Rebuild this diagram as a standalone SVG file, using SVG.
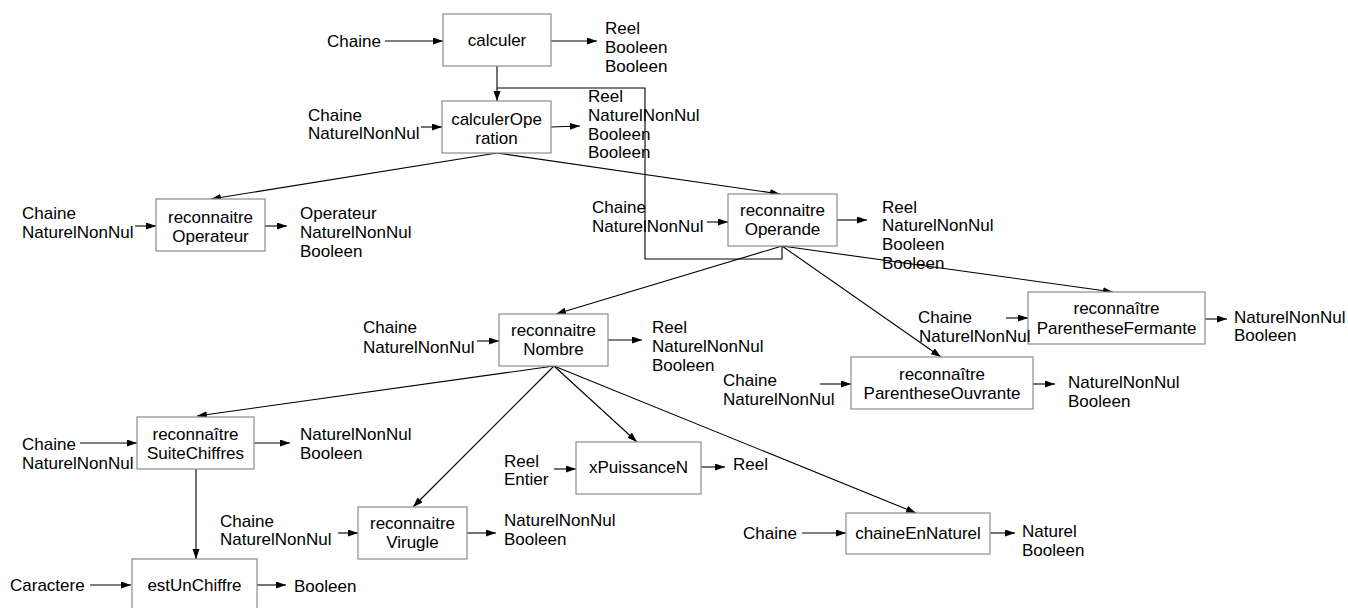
<svg xmlns="http://www.w3.org/2000/svg" width="1348" height="608" viewBox="0 0 1348 608">
<style>
.box{fill:#fff;stroke:#8c8c8c;stroke-width:1.2}
.t{font-family:"Liberation Sans",Arial,sans-serif;font-size:17px;fill:#000}
.c{text-anchor:middle}
.e{fill:none;stroke:#000;stroke-width:1.1}
.a{marker-end:url(#ah)}
</style>
<defs>
<marker id="ah" markerUnits="userSpaceOnUse" markerWidth="11" markerHeight="8" refX="10" refY="3.5" orient="auto">
<path d="M0,0 L10,3.5 L0,7 z" fill="#000"/>
</marker>
</defs>
<rect width="1348" height="608" fill="#fff"/>
<g id="connectors">
<line class="e a" x1="385" y1="41" x2="443" y2="41"/>
<line class="e a" x1="551" y1="41" x2="597" y2="41"/>
<line class="e a" x1="497" y1="66" x2="497" y2="101"/>
<polyline class="e" points="782,246 782,259 645,259 645,88 497,88"/>
<line class="e a" x1="421" y1="127" x2="442" y2="127"/>
<line class="e a" x1="551" y1="127" x2="580" y2="126"/>
<line class="e a" x1="497" y1="153" x2="211" y2="199"/>
<line class="e a" x1="497" y1="153" x2="780" y2="194"/>
<line class="e a" x1="135" y1="226" x2="156" y2="226"/>
<line class="e a" x1="265" y1="226" x2="287" y2="226"/>
<line class="e a" x1="707" y1="222" x2="728" y2="222"/>
<line class="e a" x1="837" y1="220" x2="867" y2="220"/>
<line class="e a" x1="782" y1="246" x2="556" y2="314"/>
<line class="e a" x1="782" y1="246" x2="941" y2="357"/>
<line class="e a" x1="782" y1="246" x2="1113" y2="292"/>
<line class="e a" x1="477" y1="341" x2="499" y2="341"/>
<line class="e a" x1="608" y1="340" x2="642" y2="340"/>
<line class="e a" x1="1006" y1="318" x2="1028" y2="318"/>
<line class="e a" x1="1205" y1="319" x2="1227" y2="319"/>
<line class="e a" x1="820" y1="384" x2="851" y2="384"/>
<line class="e a" x1="1033" y1="384" x2="1055" y2="384"/>
<line class="e a" x1="554" y1="366" x2="197" y2="416"/>
<line class="e a" x1="554" y1="366" x2="413" y2="507"/>
<line class="e a" x1="554" y1="366" x2="637" y2="442"/>
<line class="e a" x1="554" y1="366" x2="916" y2="513"/>
<line class="e a" x1="80" y1="443" x2="137" y2="443"/>
<line class="e a" x1="254" y1="443" x2="290" y2="443"/>
<line class="e a" x1="196" y1="469" x2="196" y2="559"/>
<line class="e a" x1="90" y1="585" x2="131" y2="585"/>
<line class="e a" x1="257" y1="585" x2="286" y2="585"/>
<line class="e a" x1="338" y1="533" x2="358" y2="533"/>
<line class="e a" x1="467" y1="533" x2="496" y2="533"/>
<line class="e a" x1="554" y1="469" x2="576" y2="469"/>
<line class="e a" x1="701" y1="467" x2="725" y2="467"/>
<line class="e a" x1="802" y1="533" x2="846" y2="533"/>
<line class="e a" x1="990" y1="533" x2="1015" y2="533"/>
</g>
<g id="calculer">
<rect class="box" x="443" y="14" width="108" height="52"/>
<text class="t c" x="497" y="46">calculer</text>
<text class="t" x="327" y="47">Chaine</text>
<text class="t" x="605" y="34">Reel</text>
<text class="t" x="605" y="53">Booleen</text>
<text class="t" x="605" y="72">Booleen</text>
</g>
<g id="calculerOperation">
<rect class="box" x="442" y="101" width="109" height="52"/>
<text class="t c" x="496.5" y="125">calculerOpe</text>
<text class="t c" x="496.5" y="143.5">ration</text>
<text class="t" x="308" y="121">Chaine</text>
<text class="t" x="308" y="139">NaturelNonNul</text>
<text class="t" x="588" y="102">Reel</text>
<text class="t" x="588" y="121">NaturelNonNul</text>
<text class="t" x="588" y="139.5">Booleen</text>
<text class="t" x="588" y="158">Booleen</text>
</g>
<g id="reconnaitreOperateur">
<rect class="box" x="156" y="199" width="109" height="52"/>
<text class="t c" x="210.5" y="223">reconnaitre</text>
<text class="t c" x="210.5" y="241.7">Operateur</text>
<text class="t" x="22" y="219">Chaine</text>
<text class="t" x="22" y="237.5">NaturelNonNul</text>
<text class="t" x="300" y="219">Operateur</text>
<text class="t" x="300" y="237.7">NaturelNonNul</text>
<text class="t" x="300" y="256.5">Booleen</text>
</g>
<g id="reconnaitreOperande">
<rect class="box" x="728" y="194" width="109" height="52"/>
<text class="t c" x="782.5" y="216">reconnaitre</text>
<text class="t c" x="782.5" y="235">Operande</text>
<text class="t" x="592" y="213">Chaine</text>
<text class="t" x="592" y="231.7">NaturelNonNul</text>
<text class="t" x="882" y="212.7">Reel</text>
<text class="t" x="882" y="231.4">NaturelNonNul</text>
<text class="t" x="882" y="250.1">Booleen</text>
<text class="t" x="882" y="268.8">Booleen</text>
</g>
<g id="reconnaitreNombre">
<rect class="box" x="499" y="314" width="109" height="52"/>
<text class="t c" x="553.5" y="335.7">reconnaitre</text>
<text class="t c" x="553.5" y="355">Nombre</text>
<text class="t" x="363" y="333">Chaine</text>
<text class="t" x="363" y="352.5">NaturelNonNul</text>
<text class="t" x="652" y="333">Reel</text>
<text class="t" x="652" y="352">NaturelNonNul</text>
<text class="t" x="652" y="371">Booleen</text>
</g>
<g id="reconnaitreParentheseFermante">
<rect class="box" x="1028" y="292" width="177" height="52"/>
<text class="t c" x="1116.5" y="314">reconnaître</text>
<text class="t c" x="1116.5" y="334">ParentheseFermante</text>
<text class="t" x="918" y="323">Chaine</text>
<text class="t" x="919" y="341.7">NaturelNonNul</text>
<text class="t" x="1234" y="323">NaturelNonNul</text>
<text class="t" x="1234" y="341">Booleen</text>
</g>
<g id="reconnaitreParentheseOuvrante">
<rect class="box" x="851" y="357" width="182" height="52"/>
<text class="t c" x="942" y="380">reconnaître</text>
<text class="t c" x="942" y="398.5">ParentheseOuvrante</text>
<text class="t" x="723" y="386">Chaine</text>
<text class="t" x="723" y="404.6">NaturelNonNul</text>
<text class="t" x="1068" y="388">NaturelNonNul</text>
<text class="t" x="1068" y="406.5">Booleen</text>
</g>
<g id="reconnaitreSuiteChiffres">
<rect class="box" x="137" y="417" width="117" height="52"/>
<text class="t c" x="195.5" y="439.5">reconnaître</text>
<text class="t c" x="195.5" y="459">SuiteChiffres</text>
<text class="t" x="22" y="450">Chaine</text>
<text class="t" x="22" y="468.5">NaturelNonNul</text>
<text class="t" x="300" y="440">NaturelNonNul</text>
<text class="t" x="300" y="458.7">Booleen</text>
</g>
<g id="estUnChiffre">
<rect class="box" x="132" y="559" width="125" height="56"/>
<text class="t c" x="194.5" y="591">estUnChiffre</text>
<text class="t" x="10" y="591">Caractere</text>
<text class="t" x="294" y="591.5">Booleen</text>
</g>
<g id="reconnaitreVirugle">
<rect class="box" x="358" y="507" width="109" height="52"/>
<text class="t c" x="412.5" y="529.3">reconnaitre</text>
<text class="t c" x="412.5" y="548.3">Virugle</text>
<text class="t" x="220" y="526.7">Chaine</text>
<text class="t" x="220" y="545">NaturelNonNul</text>
<text class="t" x="504" y="526">NaturelNonNul</text>
<text class="t" x="504" y="545">Booleen</text>
</g>
<g id="xPuissanceN">
<rect class="box" x="576" y="442" width="125" height="52"/>
<text class="t c" x="638.5" y="473">xPuissanceN</text>
<text class="t" x="504" y="466.7">Reel</text>
<text class="t" x="504" y="485">Entier</text>
<text class="t" x="733" y="470">Reel</text>
</g>
<g id="chaineEnNaturel">
<rect class="box" x="846" y="513" width="144" height="41"/>
<text class="t c" x="918" y="539">chaineEnNaturel</text>
<text class="t" x="743" y="539">Chaine</text>
<text class="t" x="1022" y="537">Naturel</text>
<text class="t" x="1022" y="555.5">Booleen</text>
</g>
</svg>
